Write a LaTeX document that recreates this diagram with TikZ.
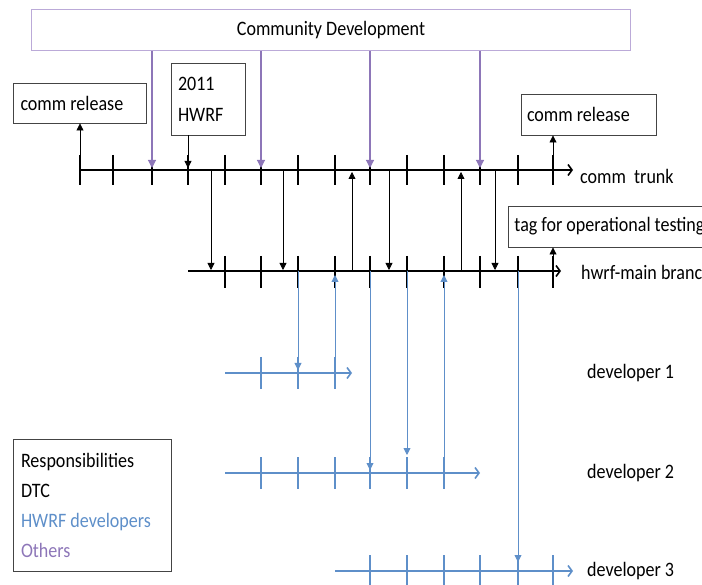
\documentclass[tikz,border=0pt]{standalone}
\usepackage{fontspec}
\setmainfont{Carlito}[FakeStretch=0.88]
\usetikzlibrary{arrows.meta}
\definecolor{opurple}{HTML}{8D76B8}
\definecolor{boxpurple}{HTML}{BBAAD8}
\definecolor{hblue}{HTML}{5E8FC9}
\definecolor{boxgray}{HTML}{444444}
\begin{document}
\begin{tikzpicture}[x=1pt,y=-1pt,
  txt/.style={font=\fontsize{20.5}{22}\selectfont, inner sep=0pt},
  tbox/.style={draw=boxgray, line width=0.9pt, font=\fontsize{20.5}{22}\selectfont, inner ysep=0pt},
  mainline/.style={line width=2.6pt, -{Straight Barb[length=4pt,width=11pt,line width=1.6pt]}},
  devline/.style={line width=2.6pt, draw=hblue, -{Straight Barb[length=4pt,width=11pt,line width=1.6pt]}},
  tick/.style={line width=1.8pt},
  devtick/.style={line width=1.8pt, draw=hblue},
  conn/.style={line width=0.8pt, -{Triangle[length=7pt,width=7pt]}},
  oth/.style={line width=1.1pt, draw=opurple, -{Triangle[length=8pt,width=8pt]}},
  hconn/.style={line width=0.9pt, draw=hblue, -{Triangle[length=7pt,width=7pt]}}
]
\useasboundingbox (0,0) rectangle (702,585);
\clip (0,0) rectangle (702,585);

% community development
\node[tbox, draw=boxpurple, line width=1.3pt, minimum width=599pt, minimum height=41pt] (comm) at (331,29.7) {Community Development};

% boxes
\node[tbox, inner xsep=7pt, minimum height=40pt] (rel1) at (80,103) {\makebox[119pt][l]{comm release}};
\node[tbox, inner xsep=7pt, minimum height=72pt] (hwrf) at (208,99) {\parbox{60pt}{\baselineskip=31pt 2011\\HWRF}};
\node[tbox, inner xsep=6pt, minimum height=41pt] (rel2) at (588.5,114.5) {\makebox[123pt][l]{comm release}};
\node[tbox, inner xsep=6pt, minimum height=41pt, anchor=west] (tag) at (508,226.5) {\makebox[203pt][l]{tag for operational testing}};
\node[tbox, inner xsep=7.5pt, minimum height=132pt] (legend) at (92.25,505) {\parbox{142.5pt}{\baselineskip=30pt Responsibilities\\DTC\\\textcolor{hblue}{HWRF developers}\\\textcolor{opurple}{Others}}};

% comm trunk
\coordinate (ts) at (80,170);
\coordinate (te) at (573,170);
\draw[mainline] (ts) -- (te);
\node[txt, anchor=west] (trunklbl) at (580,176) {comm~ trunk};
\foreach \x in {80,113,152,188,225,261,298,335,370,407,444,480,518,553}
  \draw[tick] (\x,155) -- (\x,185);

% hwrf-main branch
\coordinate (bs) at (188,271);
\coordinate (be) at (561,271);
\draw[mainline] (bs) -- (be);
\node[txt, anchor=west] (branchlbl) at (581,272) {hwrf-main branch};
\foreach \x in {225,261,298,335,370,407,444,480,518,553}
  \draw[tick] (\x,256) -- (\x,288);

% developers
\coordinate (d1s) at (225,373); \coordinate (d1e) at (352,373);
\coordinate (d2s) at (225,473); \coordinate (d2e) at (480,473);
\coordinate (d3s) at (335,571); \coordinate (d3e) at (573,571);
\draw[devline] (d1s) -- (d1e);
\draw[devline] (d2s) -- (d2e);
\draw[devline] (d3s) -- (d3e);
\foreach \x in {261,298,335} \draw[devtick] (\x,357) -- (\x,389);
\foreach \x in {261,298,335,370,407,444} \draw[devtick] (\x,457) -- (\x,489);
\foreach \x in {370,407,444,480,518,553} \draw[devtick] (\x,555) -- (\x,590);
\node[txt, anchor=west] (dev1) at (587,373) {developer 1};
\node[txt, anchor=west] (dev2) at (587,473) {developer 2};
\node[txt, anchor=west] (dev3) at (587,571) {developer 3};

% others -> trunk
\foreach \i/\x in {1/152,2/261,3/370,4/480}{
  \coordinate (ob\i) at (\x,168);
  \draw[oth] (comm.south -| ob\i) -- (ob\i);
}

% release / hwrf arrows
\coordinate (r1) at (80,156);
\draw[conn] (r1) -- (rel1.south);
\coordinate (h1) at (188,168);
\draw[conn] (hwrf.south -| h1) -- (h1);
\coordinate (r2) at (553,156);
\draw[conn] (r2) -- (rel2.south -| r2);
\coordinate (tg) at (553,257);
\draw[conn] (tg) -- (tag.south -| tg);

% trunk <-> branch
\foreach \i/\x in {1/211,2/283,3/389,4/495}{
  \coordinate (ma\i) at (\x,170); \coordinate (mb\i) at (\x,270);
  \draw[conn] (ma\i) -- (mb\i);
}
\foreach \i/\x in {5/352,6/461}{
  \coordinate (ma\i) at (\x,271); \coordinate (mb\i) at (\x,172);
  \draw[conn] (ma\i) -- (mb\i);
}

% branch <-> developers
\foreach \i/\x/\ya/\yb in {1/298/271/370, 2/370/271/470, 3/407/271/455, 4/518/271/562, 5/335/373/275, 6/444/473/275}{
  \coordinate (ha\i) at (\x,\ya); \coordinate (hb\i) at (\x,\yb);
  \draw[hconn] (ha\i) -- (hb\i);
}
\end{tikzpicture}
\end{document}
